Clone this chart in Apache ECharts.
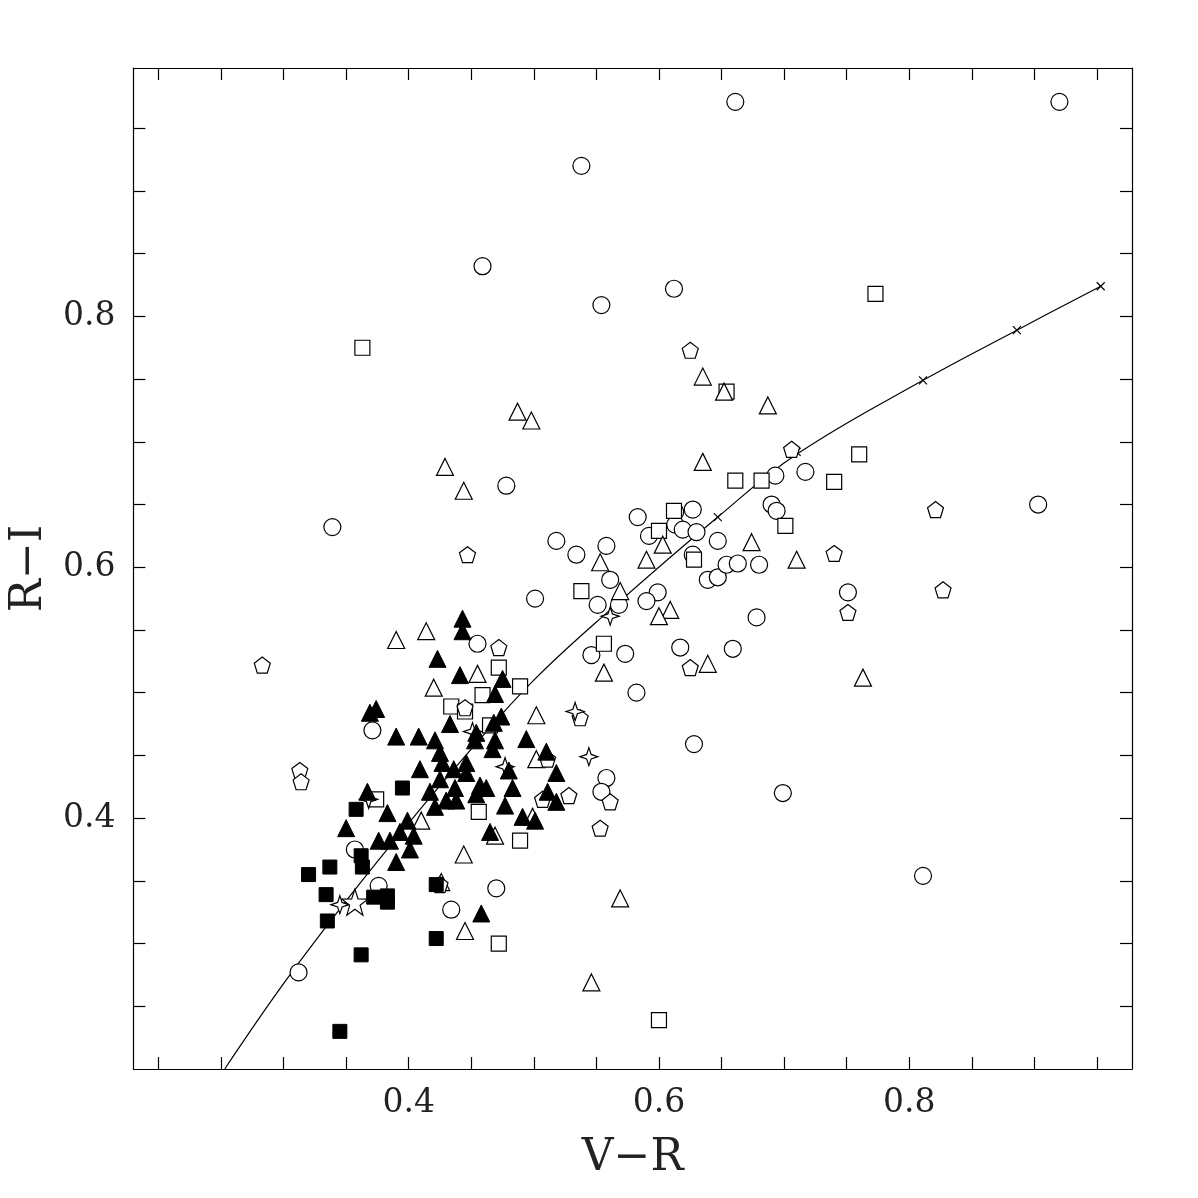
<!DOCTYPE html>
<html><head><meta charset="utf-8">
<script src="https://cdn.jsdelivr.net/npm/echarts@6/dist/echarts.min.js"></script>
<style>html,body{margin:0;padding:0;background:#fff}#c{width:1198px;height:1198px}</style>
</head><body><div id="c"></div>
<script>
const filledTriangles=[[0.443,0.559],[0.443,0.549],[0.423,0.527],[0.441,0.514],[0.475,0.511],[0.469,0.499],[0.369,0.484],[0.374,0.487],[0.433,0.475],[0.474,0.481],[0.468,0.476],[0.454,0.468],[0.390,0.465],[0.408,0.465],[0.421,0.462],[0.453,0.462],[0.469,0.462],[0.494,0.463],[0.425,0.452],[0.467,0.455],[0.510,0.453],[0.427,0.444],[0.446,0.444],[0.409,0.439],[0.436,0.439],[0.480,0.438],[0.518,0.436],[0.425,0.431],[0.446,0.436],[0.457,0.426],[0.462,0.424],[0.483,0.424],[0.417,0.421],[0.437,0.424],[0.367,0.421],[0.454,0.419],[0.430,0.414],[0.438,0.414],[0.421,0.409],[0.477,0.410],[0.383,0.404],[0.399,0.398],[0.350,0.392],[0.393,0.389],[0.404,0.386],[0.491,0.401],[0.501,0.398],[0.465,0.389],[0.511,0.421],[0.518,0.413],[0.376,0.382],[0.385,0.382],[0.401,0.375],[0.390,0.365],[0.458,0.324]];
const filledSquares=[[0.320,0.355],[0.337,0.361],[0.334,0.339],[0.335,0.318],[0.362,0.370],[0.363,0.361],[0.372,0.337],[0.383,0.338],[0.383,0.333],[0.422,0.347],[0.422,0.304],[0.362,0.291],[0.345,0.230],[0.395,0.424],[0.358,0.407]];
const openCircles=[[0.661,0.971],[0.920,0.971],[0.538,0.920],[0.459,0.840],[0.554,0.809],[0.612,0.822],[0.339,0.632],[0.478,0.665],[0.518,0.621],[0.534,0.610],[0.501,0.575],[0.558,0.617],[0.583,0.640],[0.592,0.625],[0.613,0.644],[0.627,0.646],[0.613,0.634],[0.619,0.630],[0.630,0.628],[0.627,0.610],[0.639,0.590],[0.647,0.592],[0.654,0.602],[0.663,0.603],[0.680,0.602],[0.647,0.621],[0.690,0.650],[0.694,0.645],[0.717,0.676],[0.693,0.673],[0.599,0.580],[0.561,0.590],[0.568,0.570],[0.590,0.573],[0.551,0.570],[0.546,0.530],[0.573,0.531],[0.582,0.500],[0.617,0.536],[0.659,0.535],[0.678,0.560],[0.628,0.459],[0.751,0.580],[0.903,0.650],[0.811,0.354],[0.699,0.420],[0.558,0.432],[0.554,0.421],[0.455,0.539],[0.371,0.470],[0.357,0.375],[0.312,0.277],[0.376,0.346],[0.434,0.327],[0.470,0.344]];
const openSquares=[[0.363,0.775],[0.773,0.818],[0.654,0.740],[0.661,0.669],[0.682,0.669],[0.740,0.668],[0.760,0.690],[0.701,0.633],[0.600,0.629],[0.612,0.645],[0.628,0.606],[0.538,0.581],[0.556,0.539],[0.472,0.520],[0.489,0.505],[0.434,0.489],[0.445,0.485],[0.459,0.498],[0.465,0.474],[0.456,0.405],[0.489,0.382],[0.472,0.300],[0.600,0.239],[0.374,0.415]];
const openTriangles=[[0.487,0.724],[0.498,0.717],[0.429,0.680],[0.444,0.661],[0.635,0.752],[0.652,0.740],[0.687,0.729],[0.635,0.684],[0.674,0.620],[0.603,0.618],[0.590,0.606],[0.553,0.604],[0.569,0.581],[0.609,0.566],[0.600,0.561],[0.710,0.606],[0.639,0.523],[0.556,0.516],[0.763,0.512],[0.390,0.542],[0.414,0.549],[0.420,0.504],[0.455,0.515],[0.502,0.482],[0.502,0.447],[0.469,0.386],[0.410,0.398],[0.444,0.371],[0.426,0.349],[0.445,0.310],[0.569,0.336],[0.546,0.269],[0.499,0.401]];
const openPentagons=[[0.283,0.522],[0.313,0.438],[0.314,0.429],[0.447,0.610],[0.625,0.773],[0.706,0.694],[0.821,0.646],[0.827,0.582],[0.740,0.611],[0.751,0.564],[0.625,0.520],[0.537,0.480],[0.561,0.413],[0.528,0.418],[0.553,0.392],[0.472,0.536],[0.445,0.488],[0.511,0.447],[0.507,0.415],[0.425,0.347]];
const openStars4=[[0.533,0.485],[0.544,0.449],[0.561,0.561],[0.451,0.469],[0.368,0.415],[0.477,0.441],[0.345,0.331]];
const openStars5=[[0.357,0.333]];
const modelLine=[[0.253,0.2],[0.30,0.268],[0.35,0.334],[0.40,0.396],[0.45,0.455],[0.50,0.51],[0.561,0.566],[0.647,0.640],[0.710,0.690],[0.811,0.749],[0.886,0.789],[0.953,0.824]];
const modelMarks=[[0.647,0.640],[0.710,0.692],[0.811,0.749],[0.886,0.789],[0.953,0.824]];
const xLabels=[0.4,0.6,0.8];
const yLabels=[0.4,0.6,0.8];
const xTicks=[0.2,0.25,0.3,0.35,0.4,0.45,0.5,0.55,0.6,0.65,0.7,0.75,0.8,0.85,0.9,0.95];
const yTicks=[0.25,0.3,0.35,0.4,0.45,0.5,0.55,0.6,0.65,0.7,0.75,0.8,0.85,0.9,0.95];

const pent='path://M0,-10L9.51,-3.09L5.88,8.09L-5.88,8.09L-9.51,-3.09Z';
const star4='path://M0,-10L2.5,-2.5L10,0L2.5,2.5L0,10L-2.5,2.5L-10,0L-2.5,-2.5Z';
const star5='path://M0,-10L2.35,-3.24L9.51,-3.09L3.8,1.24L5.88,8.09L0,4L-5.88,8.09L-3.8,1.24L-9.51,-3.09L-2.35,-3.24Z';
const cross='path://M-10,-10L10,10M10,-10L-10,10';
const font='"DejaVu Serif", "Liberation Serif", serif';
const openStyle={color:'#fff',borderColor:'#000',borderWidth:1.2,opacity:1};
const filledStyle={color:'#000',borderColor:'#000',borderWidth:1,opacity:1};
function sc(data,symbol,size,style){return {type:'scatter',data:data,symbol:symbol,symbolSize:size,itemStyle:style,silent:true,z:3};}
const axCommon=(labels,ticks,show)=>({
  axisLine:{show:true,lineStyle:{color:'#000',width:1.2}},
  axisTick:{show:true,inside:true,length:12,customValues:ticks,lineStyle:{color:'#000',width:1.2}},
  axisLabel:{show:show,customValues:labels,fontFamily:font,fontSize:33,color:'#222',margin:18,formatter:v=>v.toFixed(1)},
  splitLine:{show:false}
});
const chart=echarts.init(document.getElementById('c'));
chart.setOption({
  animation:false,
  backgroundColor:'#fff',
  grid:{left:130,right:66,top:68,bottom:129,containLabel:false},
  xAxis:[
    Object.assign({type:'value',min:0.18,max:0.978,position:'bottom',name:'V\u2212R',nameLocation:'middle',nameGap:68,nameTextStyle:{fontFamily:font,fontSize:44,color:'#222'}},axCommon(xLabels,xTicks,true)),
    Object.assign({type:'value',min:0.18,max:0.978,position:'top'},axCommon(xLabels,xTicks,false))
  ],
  yAxis:[
    Object.assign({type:'value',min:0.2,max:0.998,position:'left',name:'R\u2212I',nameLocation:'middle',nameGap:78,nameTextStyle:{fontFamily:font,fontSize:44,color:'#222'}},axCommon(yLabels,yTicks,true)),
    Object.assign({type:'value',min:0.2,max:0.998,position:'right'},axCommon(yLabels,yTicks,false))
  ],
  series:[
    {type:'line',data:modelLine,smooth:0.4,showSymbol:false,lineStyle:{color:'#000',width:1.2},silent:true,z:2},
    {type:'scatter',data:modelMarks,symbol:cross,symbolSize:8,itemStyle:{color:'none',borderColor:'#000',borderWidth:1.2,opacity:1},silent:true,z:3},
    sc(openCircles,'circle',17,openStyle),
    sc(openSquares,'rect',15,openStyle),
    sc(openTriangles,'triangle',17,openStyle),
    sc(openPentagons,pent,16,openStyle),
    sc(openStars4,star4,18,openStyle),
    sc(openStars5,star5,26,openStyle),
    sc(filledTriangles,'triangle',17,filledStyle),
    sc(filledSquares,'rect',14,filledStyle)
  ]
});
</script></body></html>
